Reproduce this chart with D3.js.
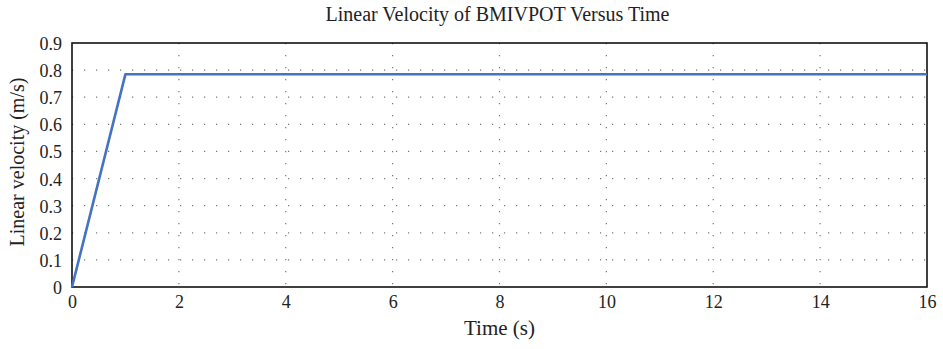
<!DOCTYPE html>
<html>
<head>
<meta charset="utf-8">
<script src="https://cdn.jsdelivr.net/npm/d3@7"></script>
<style>
  body { margin: 0; background: #fff; }
  svg text { font-family: "Liberation Serif", "DejaVu Serif", serif; fill: #222; }
</style>
</head>
<body>
<svg id="chart" width="943" height="349"></svg>
<script>
// data
const timeValues = [0, 1, 16];
const velocityValues = [0, 0.785, 0.785];
const xTicks = [0, 2, 4, 6, 8, 10, 12, 14, 16];
const yTicks = [0, 0.1, 0.2, 0.3, 0.4, 0.5, 0.6, 0.7, 0.8, 0.9];

const svg = d3.select("#chart");
const margin = { top: 43, right: 16, bottom: 62, left: 72 };
const width = +svg.attr("width") - margin.left - margin.right;
const height = +svg.attr("height") - margin.top - margin.bottom;

const x = d3.scaleLinear().domain([0, 16]).range([0, width]);
const y = d3.scaleLinear().domain([0, 0.9]).range([height, 0]);

const g = svg.append("g")
    .attr("transform", "translate(" + margin.left + "," + margin.top + ")");

// dotted grid
g.append("g")
    .selectAll("line")
    .data(xTicks.slice(1, -1))
    .enter().append("line")
    .attr("x1", d => x(d)).attr("x2", d => x(d))
    .attr("y1", 0).attr("y2", height)
    .attr("stroke", "#777")
    .attr("stroke-width", 1.2)
    .attr("stroke-dasharray", "1.2,10.8");

g.append("g")
    .selectAll("line")
    .data(yTicks.slice(1, -1))
    .enter().append("line")
    .attr("x1", 0).attr("x2", width)
    .attr("y1", d => y(d)).attr("y2", d => y(d))
    .attr("stroke", "#777")
    .attr("stroke-width", 1.2)
    .attr("stroke-dasharray", "1.2,10.8");

// axes
const xAxis = g.append("g")
    .attr("transform", "translate(0," + height + ")")
    .call(d3.axisBottom(x).tickValues(xTicks).tickSize(0).tickPadding(8).tickFormat(d3.format("d")));
const yAxis = g.append("g")
    .call(d3.axisLeft(y).tickValues(yTicks).tickSize(0).tickPadding(10).tickFormat(d => d === 0 ? "0" : d3.format(".1f")(d)));

[xAxis, yAxis].forEach(a => {
    a.select(".domain").remove();
    a.selectAll("text").style("font-size", "18px").attr("fill", "#222");
});
yAxis.selectAll("text").attr("dy", "0.36em");

// frame
g.append("rect")
    .attr("width", width).attr("height", height)
    .attr("fill", "none")
    .attr("stroke", "#111")
    .attr("stroke-width", 1.6);

// velocity line
const line = d3.line()
    .x((d, i) => x(timeValues[i]))
    .y(d => y(d));

g.append("path")
    .datum(velocityValues)
    .attr("d", line)
    .attr("fill", "none")
    .attr("stroke", "#4472c4")
    .attr("stroke-width", 2.6)
    .attr("stroke-linejoin", "round");

// title and labels
svg.append("text")
    .attr("x", margin.left + width / 2 - 2).attr("y", 21)
    .attr("text-anchor", "middle")
    .style("font-size", "20px")
    .text("Linear Velocity of BMIVPOT Versus Time");

svg.append("text")
    .attr("x", margin.left + width / 2).attr("y", 335)
    .attr("text-anchor", "middle")
    .style("font-size", "21px")
    .text("Time (s)");

svg.append("text")
    .attr("transform", "translate(24," + (margin.top + height / 2 - 3) + ") rotate(-90)")
    .attr("text-anchor", "middle")
    .style("font-size", "20px")
    .text("Linear velocity (m/s)");
</script>
</body>
</html>
